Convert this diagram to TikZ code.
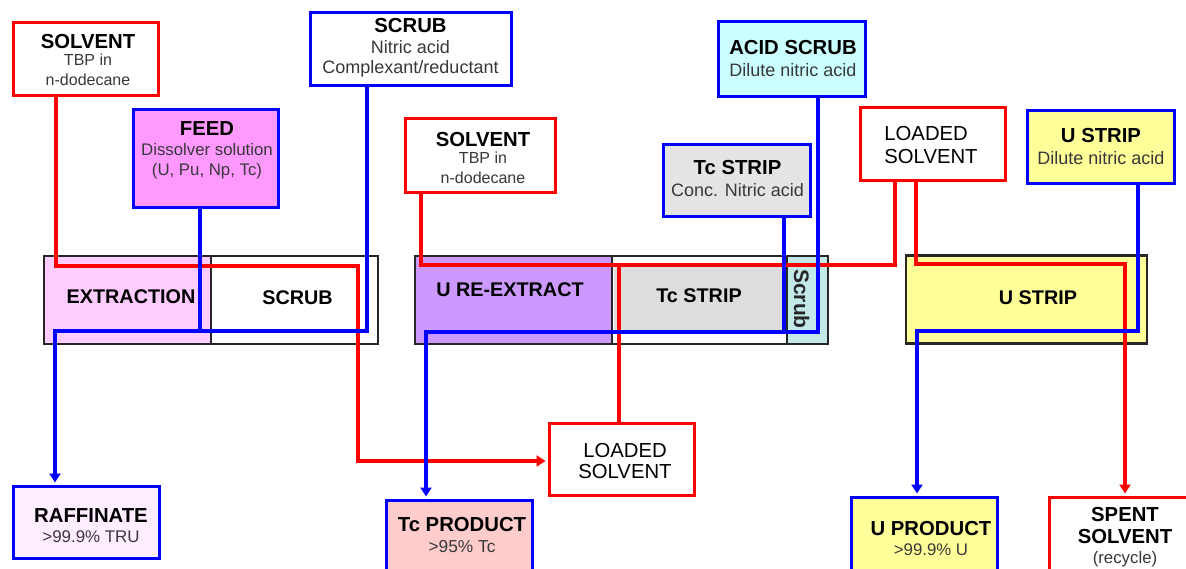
\documentclass[tikz,border=0pt]{standalone}
\usepackage{fontspec}
\setmainfont{Liberation Sans}
\usetikzlibrary{arrows.meta}

\definecolor{flowred}{HTML}{FF0000}
\definecolor{flowblue}{HTML}{0000FF}
\definecolor{feedpink}{HTML}{FF99FF}
\definecolor{extrpink}{HTML}{FFCCFF}
\definecolor{raffpink}{HTML}{FFEEFF}
\definecolor{urepurple}{HTML}{CC99FF}
\definecolor{tcgrey}{HTML}{DDDDDD}
\definecolor{tcboxgrey}{HTML}{E4E4E4}
\definecolor{scrubcyan}{HTML}{C2E8E8}
\definecolor{acidcyan}{HTML}{CCFFFF}
\definecolor{uyellow}{HTML}{FFFF99}
\definecolor{tcprodpink}{HTML}{FFCCCC}

\newcommand\boxtitle[1]{{\fontsize{20.3}{20}\selectfont\bfseries\color{black}#1}}
\newcommand\boxplain[1]{{\fontsize{20.3}{20}\selectfont\color{black}#1}}

\begin{document}
\begin{tikzpicture}[x=1pt,y=-1pt,
  box/.style={rectangle, draw, line width=3pt, inner sep=0pt},
  redbox/.style={box, draw=flowred, fill=white},
  bluebox/.style={box, draw=flowblue},
  bank/.style={rectangle, draw=black!85, line width=2.6pt, inner sep=0pt, minimum height=88pt},
  txt/.style={align=center, inner sep=0pt, text=black!78, font=\fontsize{#1}{20}\selectfont},
  txt/.default=16.5,
  banktxt/.style={inner sep=0pt, text=black, font=\fontsize{19.8}{20}\selectfont\bfseries},
  flow/.style={line width=3.5pt},
  redflow/.style={flow, draw=flowred},
  blueflow/.style={flow, draw=flowblue},
  tip/.style={-{Triangle[length=9pt,width=11pt]}, shorten >=2pt},
]
\useasboundingbox (0,0) rectangle (1186,569);
\clip (0,0) rectangle (1186,569);
\fill[white] (0,0) rectangle (1186,569);

% ---- contactor banks ----
\node[bank, fill=extrpink, minimum width=167pt] (extr) at (127.5,300) {};
\node[bank, fill=white, minimum width=167pt] (scrubbank) at (294.5,300) {};
\node[bank, fill=urepurple, minimum width=197pt] (ure) at (513.5,300) {};
\node[bank, fill=white, minimum width=175pt] (tcbank) at (699.5,300) {};
\fill[tcgrey] (614,266) rectangle (784,332);
\node[bank, fill=scrubcyan, minimum width=41pt] (scrubsm) at (807.5,300) {};
\node[bank, fill=uyellow, minimum width=241pt] (ustripbank) at (1026.5,299.5) {};

\node[banktxt] (extrt) at (131,297) {EXTRACTION};
\node[banktxt] (scrubbankt) at (297.5,298) {SCRUB};
\node[banktxt] (uret) at (510,290) {U RE-EXTRACT};
\node[banktxt] (tcbankt) at (699,296) {Tc STRIP};
\node[inner sep=0pt, rotate=-90, font=\fontsize{21}{20}\selectfont\bfseries, text=black!85] (scrubsmt) at (801.5,299) {Scrub};
\node[banktxt] (ustripbankt) at (1038,298) {U STRIP};

% ---- feed and product boxes ----
\node[redbox, minimum width=145pt, minimum height=73pt] (solv1) at (85.5,59.5) {};
\node[bluebox, fill=feedpink, minimum width=145pt, minimum height=98pt] (feed) at (205.5,159) {};
\node[bluebox, fill=white, minimum width=201pt, minimum height=73pt] (scrubin) at (410.5,49.5) {};
\node[redbox, minimum width=150pt, minimum height=74pt] (solv2) at (480,156) {};
\node[bluebox, fill=acidcyan, minimum width=147pt, minimum height=75pt] (acid) at (791.5,59.5) {};
\node[bluebox, fill=tcboxgrey, minimum width=147pt, minimum height=72pt] (tcbox) at (736.5,181) {};
\node[redbox, minimum width=145pt, minimum height=73pt] (loadedT) at (932.5,144.5) {};
\node[bluebox, fill=uyellow, minimum width=147pt, minimum height=73pt] (ustripT) at (1100.5,147.5) {};
\node[bluebox, fill=raffpink, minimum width=146pt, minimum height=72pt] (raff) at (86,522) {};
\node[bluebox, fill=tcprodpink, minimum width=146pt, minimum height=90pt] (tcprod) at (459,545) {};
\node[redbox, minimum width=145pt, minimum height=72pt] (loadedB) at (621.5,459) {};
\node[bluebox, fill=uyellow, minimum width=146pt, minimum height=90pt] (uprod) at (924,542) {};
\node[redbox, minimum width=146pt, minimum height=90pt] (spent) at (1122,542) {};

% ---- flow lines ----
\coordinate (a1) at (56,266);
\coordinate (a2) at (358,266);
\coordinate (a3) at (358,461);
\draw[redflow, tip] (solv1.south -| a1) -- (a1) -- (a2) -- (a3) -- (a3 -| loadedB.west);

\coordinate (f1) at (200,331);
\draw[blueflow] (feed.south -| f1) -- (f1);

\coordinate (b1) at (367,331);
\coordinate (b2) at (55,331);
\draw[blueflow, tip] (scrubin.south -| b1) -- (b1) -- (b2) -- (b2 |- raff.north);

\coordinate (c1) at (421,265);
\coordinate (c2) at (895,265);
\coordinate (c3) at (619,265);
\draw[redflow] (solv2.south -| c1) -- (c1) -- (c2) -- (c2 |- loadedT.south);
\draw[redflow] (c3) -- (c3 |- loadedB.north);

\coordinate (d1) at (784,332);
\coordinate (d2) at (818,332);
\coordinate (d3) at (426,332);
\draw[blueflow] (tcbox.south -| d1) -- (d1);
\draw[blueflow, tip] (acid.south -| d2) -- (d2) -- (d3) -- (d3 |- tcprod.north);

\coordinate (e1) at (916,264);
\coordinate (e2) at (1125,264);
\draw[redflow, tip] (loadedT.south -| e1) -- (e1) -- (e2) -- (e2 |- spent.north);

\coordinate (g1) at (1138,331);
\coordinate (g2) at (917,331);
\draw[blueflow, tip] (ustripT.south -| g1) -- (g1) -- (g2) -- (g2 |- uprod.north);

% ---- box texts ----
\node[txt=16] (solv1t) at (88,60) {\boxtitle{SOLVENT}\\[-3pt]TBP in\\n-dodecane};
\node[txt=16.8] (feedt) at (207,150) {\boxtitle{FEED}\\Dissolver solution\\(U, Pu, Np, Tc)};
\node[txt=18] (scrubint) at (410.5,48) {\boxtitle{SCRUB}\\[1pt]Nitric acid\\Complexant/reductant};
\node[txt=16] (solv2t) at (483,158) {\boxtitle{SOLVENT}\\[-3pt]TBP in\\n-dodecane};
\node[txt=18] (acidt) at (793,59) {\boxtitle{ACID SCRUB}\\[2pt]Dilute nitric acid};
\node[txt=18] (tcboxt) at (737.5,179) {\boxtitle{Tc STRIP}\\[2pt]Conc. Nitric acid};
\node[txt, align=left] (loadedTt) at (931,145) {\boxplain{LOADED}\\[3pt]\boxplain{SOLVENT}};
\node[txt=18] (ustripTt) at (1101,147) {\boxtitle{U STRIP}\\[2pt]Dilute nitric acid};
\node[txt=16.9] (rafft) at (91,526) {\boxtitle{RAFFINATE}\\>99.9\% TRU};
\node[txt=17.3] (tcprodt) at (462,535) {\boxtitle{Tc PRODUCT}\\[1pt]>95\% Tc};
\node[txt] (loadedBt) at (625,461) {\boxplain{LOADED}\\[1pt]\boxplain{SOLVENT}};
\node[txt=16.8] (uprodt) at (931,538) {\boxtitle{U PRODUCT}\\>99.9\% U};
\node[txt=16.8] (spentt) at (1125,537) {\boxtitle{SPENT}\\[2pt]\boxtitle{SOLVENT}\\(recycle)};
\end{tikzpicture}
\end{document}
